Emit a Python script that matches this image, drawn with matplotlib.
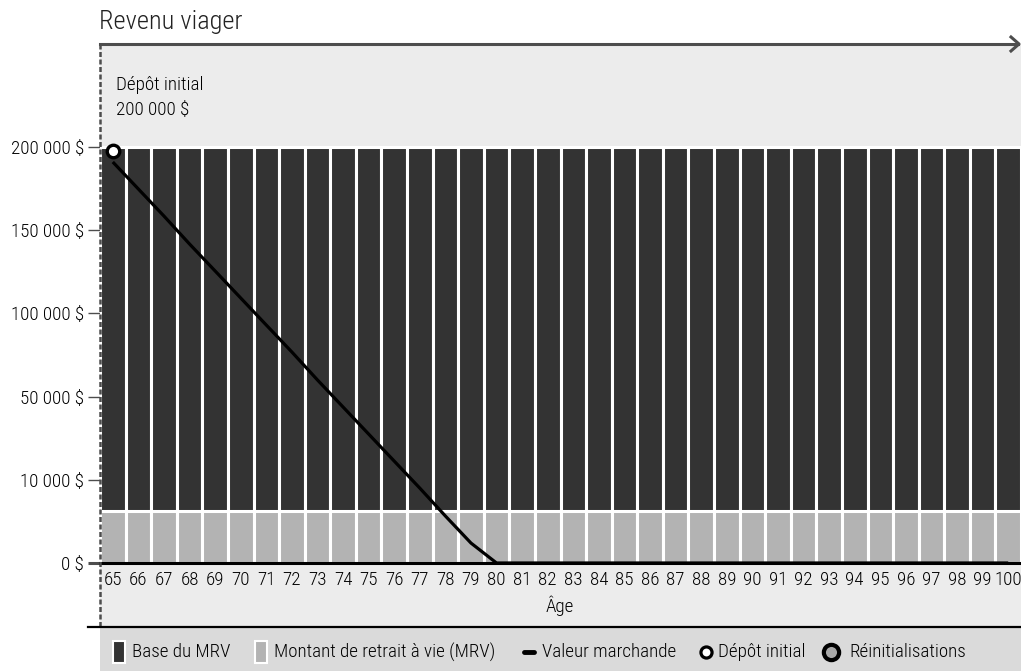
import numpy as np
import matplotlib
matplotlib.use("Agg")
import matplotlib.pyplot as plt
from matplotlib.lines import Line2D
from matplotlib.patches import Rectangle

plt.rcParams['font.family'] = ['Roboto Condensed', 'DejaVu Sans']
plt.rcParams['font.weight'] = 'light'

# ---------------- data ----------------
ages = list(range(65, 101))
base_mrv = [200000] * len(ages)
mrv = [6200] * len(ages)
valeur_ages = list(range(65, 81)) + [100]
valeur_marchande = [191000, 174750, 158500, 141700, 125500, 109250, 93000, 76800,
                    60000, 45000, 32000, 19000, 9000, 5650, 2400, 0, 0]
depot_age = [65]
depot_val = [197500]
ytick_vals = [0, 10000, 50000, 100000, 150000, 200000]
ytick_labels = ["0 $", "10 000 $", "50 000 $", "100 000 $", "150 000 $", "200 000 $"]
title = "Revenu viager"
xlabel = "Âge"
legend_labels = ["Base du MRV", "Montant de retrait à vie (MRV)", "Valeur marchande",
                 "Dépôt initial", "Réinitialisations"]

# ---------------- style ----------------
W, H = 1021, 671
DARK = "#333333"
LIGHT = "#b3b3b3"
BG = "#ececec"
LEG_BG = "#dadada"
AXC = "#4d4d4d"
TXT = "#000000"
FS = 13.7

knots_v = np.array([0, 10000, 50000, 100000, 150000, 200000, 300000], float)
knots_p = np.array([0, 1, 2, 3, 4, 5, 7], float)

def fwd(v):
    return np.interp(v, knots_v, knots_p)

def inv(p):
    return np.interp(p, knots_p, knots_v)

fig = plt.figure(figsize=(W / 100, H / 100), dpi=100)
fig.patch.set_facecolor("white")

def fx(px):
    return px / W

def fy(py):
    return 1 - py / H

# background bands
fig.add_artist(Rectangle((fx(100), fy(627)), fx(W - 100), (627 - 44) / H,
                         facecolor=BG, edgecolor="none", zorder=0))
fig.add_artist(Rectangle((fx(100), 0), fx(W - 100), (H - 627) / H,
                         facecolor=LEG_BG, edgecolor="none", zorder=0))

ax_left, ax_right = 100, 1021
ax_top, ax_bot = 44, 563
ax = fig.add_axes([fx(ax_left), fy(ax_bot), (ax_right - ax_left) / W, (ax_bot - ax_top) / H])
ax.set_facecolor("none")
ax.set_yscale("function", functions=(fwd, inv))

x = np.array(ages)
ax.bar(x, base_mrv, width=1.0, color=DARK, edgecolor="white", linewidth=2.2, zorder=2)
ax.bar(x, mrv, width=1.0, color=LIGHT, edgecolor="white", linewidth=2.2, zorder=3)
ax.plot(valeur_ages, valeur_marchande, color="black", lw=2.3, zorder=5,
        solid_capstyle="butt")
ax.plot(depot_age, depot_val, "o", ms=9, mfc="white", mec="black", mew=2.4, zorder=6)

ax.set_xlim(64.5, 100.5)
ax.set_ylim(0, inv((ax_bot - ax_top) / 83.2))

ax.set_yticks(ytick_vals)
ax.set_yticklabels(ytick_labels, fontsize=FS, color=TXT)
ax.tick_params(axis="y", length=8.5, width=1.0, color=AXC, pad=3)
ax.set_xticks(ages)
ax.set_xticklabels([str(a) for a in ages], fontsize=FS, color=TXT)
ax.tick_params(axis="x", length=0, pad=5.5)
ax.yaxis.get_ticklines()[0].set_color("black")
ax.yaxis.get_ticklines()[0].set_markeredgewidth(2.2)

for s in ["top", "right", "left"]:
    ax.spines[s].set_visible(False)
ax.spines["bottom"].set_color("black")
ax.spines["bottom"].set_linewidth(2.2)
ax.spines["bottom"].set_zorder(4)

fig.text(fx(560), fy(606), xlabel, ha="center", va="center", fontsize=FS, color=TXT)

# title
fig.text(fx(99), fy(22), title, ha="left", va="center", fontsize=19, color="#222222")

# annotation
fig.text(fx(116), fy(85), "Dépôt initial", ha="left", va="center", fontsize=FS, color=TXT)
fig.text(fx(116), fy(110), "200 000 $", ha="left", va="center", fontsize=FS, color=TXT)

# top line with chevron
fig.add_artist(Line2D([fx(100), fx(1018)], [fy(44), fy(44)], color=AXC, lw=2.2, zorder=7))
fig.add_artist(Line2D([fx(1011), fx(1019), fx(1011)], [fy(37), fy(44), fy(51)],
                      color=AXC, lw=2.2, zorder=7))
# left dashed line
fig.add_artist(Line2D([fx(100), fx(100)], [fy(44), fy(627)], color=AXC, lw=1.8,
                      linestyle=(0, (2, 1)), zorder=7))
# separator line
fig.add_artist(Line2D([fx(88), fx(1021)], [fy(627), fy(627)], color="black", lw=1.6, zorder=7))

# legend
ly = 652
def patch(x0, color):
    fig.add_artist(Rectangle((fx(x0), fy(ly + 11)), 12 / W, 22 / H, facecolor=color,
                             edgecolor="white", linewidth=1.5, zorder=8))

patch(112.5, DARK)
fig.text(fx(132), fy(ly), legend_labels[0], ha="left", va="center", fontsize=FS, color=TXT)
patch(254.5, LIGHT)
fig.text(fx(274), fy(ly), legend_labels[1], ha="left", va="center", fontsize=FS, color=TXT)
fig.add_artist(Line2D([fx(524), fx(534)], [fy(ly), fy(ly)], color="black", lw=3.5,
                      solid_capstyle="round", zorder=8))
fig.text(fx(542), fy(ly), legend_labels[2], ha="left", va="center", fontsize=FS, color=TXT)
fig.add_artist(Line2D([fx(706)], [fy(ly)], marker="o", ms=8, mfc="white", mec="black",
                      mew=2.3, zorder=8))
fig.text(fx(718), fy(ly), legend_labels[3], ha="left", va="center", fontsize=FS, color=TXT)
fig.add_artist(Line2D([fx(831)], [fy(ly)], marker="o", ms=11, mfc="#a8a8a8", mec="black",
                      mew=3, zorder=8))
fig.text(fx(849), fy(ly), legend_labels[4], ha="left", va="center", fontsize=FS, color=TXT)

fig.savefig("out.png", dpi=100)
